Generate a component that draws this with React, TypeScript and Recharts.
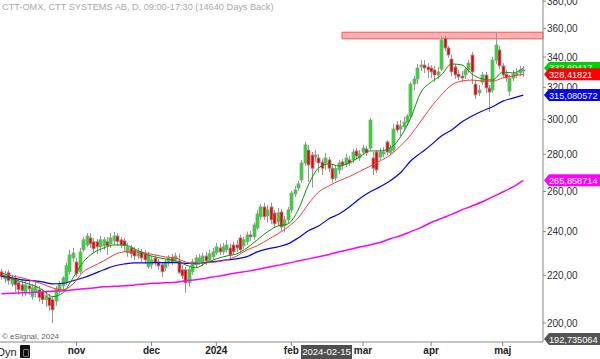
import React from 'react';
import { ComposedChart, Bar, Line, XAxis, YAxis, ReferenceArea, ReferenceLine } from 'recharts';

const FONT = '"Liberation Sans", Arial, sans-serif';

// daily candles [open, high, low, close], 2023-10-02 .. 2024-05-10
const candles = [
  // okt
  [221.5, 222.8, 218.0, 219.3], [218.4, 221.9, 216.7, 220.2], [221.1, 222.4, 215.8, 217.6], [216.2, 220.2, 215.0, 218.9],
  [218.4, 220.2, 212.8, 215.8], [216.7, 218.0, 211.6, 213.7], [215.8, 218.5, 210.8, 213.3], [212.8, 218.0, 211.2, 215.8],
  [215.4, 217.6, 211.6, 214.1], [210.8, 216.2, 209.5, 214.5], [212.8, 217.5, 210.4, 215.0], [213.7, 215.4, 208.6, 210.4],
  [212.8, 214.1, 207.8, 209.5], [209.5, 213.2, 206.6, 211.2], [210.4, 212.0, 204.9, 207.0], [209.5, 211.2, 200.0, 205.3],
  [209.0, 215.4, 207.0, 214.1], [213.2, 217.6, 211.6, 216.2], [215.4, 219.7, 213.7, 218.8], [217.1, 225.5, 215.8, 224.2],
  [221.5, 231.4, 220.2, 229.1], [227.7, 232.3, 226.0, 230.0],
  // nov
  [225.9, 227.7, 219.3, 220.6], [221.5, 232.3, 220.6, 230.5], [231.4, 237.5, 230.5, 236.1], [233.7, 239.3, 232.8, 237.9],
  [237.0, 239.3, 232.3, 234.2], [235.2, 237.0, 230.1, 231.9], [235.2, 236.5, 229.6, 232.8], [232.8, 238.0, 230.5, 236.1],
  [233.3, 237.5, 231.4, 236.1], [235.2, 237.5, 229.1, 233.3], [234.2, 239.3, 232.3, 237.0], [235.6, 239.8, 233.7, 237.9],
  [237.9, 239.3, 233.3, 235.2], [236.1, 237.5, 232.3, 233.7], [235.6, 237.0, 230.5, 233.3], [230.1, 234.7, 228.2, 232.8],
  [232.3, 233.7, 227.7, 229.6], [231.4, 232.8, 226.8, 228.6], [228.6, 232.3, 227.3, 230.5], [230.5, 231.9, 225.9, 227.7],
  [229.6, 231.4, 225.0, 226.8], [223.7, 230.5, 222.8, 229.1],
  // dec
  [224.6, 228.6, 222.8, 226.8], [227.7, 229.1, 224.1, 225.5], [225.9, 227.3, 222.4, 224.1], [224.6, 225.9, 219.3, 221.5],
  [223.3, 227.3, 221.9, 225.9], [225.5, 229.1, 224.1, 227.7], [227.7, 229.6, 224.6, 226.0], [226.8, 230.1, 225.5, 228.6],
  [226.4, 229.6, 220.6, 221.1], [222.4, 224.6, 218.4, 219.7], [222.4, 223.7, 212.4, 216.7], [216.7, 223.7, 215.0, 222.4],
  [221.5, 227.3, 220.2, 225.9], [224.6, 229.1, 223.3, 227.7], [226.0, 229.6, 224.6, 227.7], [226.0, 230.1, 224.1, 228.6],
  [228.6, 230.5, 224.6, 226.4], [226.8, 231.4, 225.5, 229.6], [228.2, 232.3, 227.3, 230.5],
  // jan
  [230.1, 234.7, 229.1, 232.8], [232.3, 234.2, 229.1, 230.5], [230.5, 234.7, 229.1, 232.8], [231.4, 236.1, 230.1, 233.7],
  [232.3, 234.2, 227.7, 229.1], [233.7, 235.2, 229.1, 230.5], [233.7, 236.1, 230.5, 232.3], [237.0, 238.4, 230.1, 231.4],
  [233.3, 237.5, 231.9, 236.1], [235.2, 240.0, 233.7, 238.4], [238.4, 240.4, 235.6, 237.5], [237.5, 244.5, 236.1, 243.2],
  [241.8, 250.6, 240.8, 248.6], [247.2, 253.6, 245.7, 252.1], [252.1, 254.2, 245.7, 247.2], [247.6, 253.1, 244.5, 250.6],
  [252.1, 254.2, 243.7, 245.7], [249.1, 250.6, 241.8, 243.7], [244.7, 251.6, 242.7, 249.1], [249.6, 251.1, 240.4, 242.2],
  [242.7, 247.6, 239.6, 245.7], [245.7, 252.1, 244.2, 250.6],
  // feb
  [250.6, 260.3, 249.1, 259.2], [258.7, 262.9, 257.2, 260.8], [261.8, 265.6, 260.3, 264.0], [266.1, 276.9, 264.5, 275.2],
  [275.2, 287.0, 273.6, 285.3], [282.4, 285.3, 265.0, 274.1], [279.6, 281.3, 262.0, 272.3], [278.5, 282.4, 275.8, 279.6],
  [278.0, 280.2, 270.0, 275.2], [275.7, 277.5, 268.7, 272.3], [275.2, 280.8, 271.4, 278.0], [276.9, 278.5, 270.3, 272.3],
  [272.3, 274.1, 264.5, 266.6], [267.1, 274.1, 265.6, 272.3], [271.4, 276.9, 269.2, 275.2], [275.8, 277.4, 271.4, 274.1],
  [274.7, 280.2, 273.0, 278.0], [276.9, 279.1, 273.6, 275.2], [276.9, 283.0, 275.2, 281.3], [281.9, 283.5, 277.4, 279.1],
  [278.0, 282.4, 276.3, 280.2],
  // mar
  [281.3, 285.3, 279.6, 283.5], [283.0, 284.7, 279.1, 280.8], [283.5, 301.0, 282.4, 299.8], [278.0, 281.3, 268.7, 272.3],
  [281.3, 282.4, 269.7, 271.4], [278.5, 283.5, 276.9, 281.3], [280.2, 284.1, 278.5, 281.3], [287.0, 288.1, 279.6, 281.3],
  [280.8, 285.3, 279.6, 283.5], [282.4, 297.5, 281.3, 294.5], [296.9, 299.2, 292.3, 293.9], [294.5, 299.8, 290.4, 296.3],
  [295.7, 301.6, 293.3, 298.6], [298.6, 303.4, 296.3, 302.2], [302.2, 323.4, 300.4, 322.1], [322.1, 327.3, 318.3, 325.4],
  [325.4, 335.3, 322.1, 332.6], [333.3, 337.9, 330.6, 334.6], [334.6, 337.9, 329.3, 332.6], [333.3, 335.9, 326.0, 331.3],
  // apr
  [332.6, 334.6, 326.0, 330.0], [331.3, 333.9, 323.4, 328.0], [328.0, 333.3, 325.4, 330.0], [331.9, 354.5, 330.6, 351.7],
  [353.0, 354.5, 344.1, 346.1], [346.1, 347.5, 339.3, 341.3], [338.6, 341.3, 327.3, 330.0], [333.3, 335.3, 325.4, 328.0],
  [328.6, 331.3, 324.7, 326.7], [327.3, 330.6, 323.4, 326.0], [328.0, 333.3, 325.4, 331.3], [331.3, 337.9, 329.3, 335.9],
  [341.3, 343.4, 322.1, 330.0], [322.1, 324.7, 312.6, 315.2], [316.5, 321.5, 314.5, 318.3], [323.4, 330.0, 321.5, 328.0],
  [328.0, 330.0, 316.5, 319.6], [319.6, 321.5, 304.7, 317.0], [318.3, 340.0, 316.5, 337.9], [337.9, 357.4, 335.3, 348.2],
  [344.8, 347.5, 332.0, 334.0],
  // maj
  [334.0, 335.9, 326.0, 328.0], [328.6, 331.3, 323.4, 326.0], [317.6, 328.0, 314.5, 326.0], [326.0, 331.3, 324.0, 328.6],
  [328.0, 332.6, 326.0, 329.3], [329.3, 334.0, 327.3, 331.3], [331.3, 333.9, 326.7, 330.6],
];

// bar index of first trading day of each month
const monthTicks = [22, 44, 63, 85, 106, 126, 147];
const monthLabels = ['nov', 'dec', '2024', 'feb', 'mar', 'apr', 'maj'];
const priceTicks = [200, 220, 240, 260, 280, 300, 320, 340, 360, 380];

// moving averages read every 3rd bar
const maIdx = [0, 3, 6, 9, 12, 15, 18, 21, 24, 27, 30, 33, 36, 39, 42, 45, 48, 51, 54, 57, 60, 63, 66, 69, 72, 75,
  78, 81, 84, 87, 90, 93, 96, 99, 102, 105, 108, 111, 114, 117, 120, 123, 126, 129, 132, 135, 138, 141, 144, 147, 150, 153];
const maFast = [220.2, 218.4, 217.1, 215.8, 213.7, 210.8, 212.4, 218.9, 225.9, 230.1, 232.3, 233.7, 233.7, 231.9, 229.6, 228.2,
  227.3, 226.4, 224.6, 223.3, 225.5, 227.3, 228.6, 229.6, 232.3, 236.1, 239.9, 242.7, 243.7, 250.6, 263.4, 272.5, 274.7, 273.6,
  275.2, 278.5, 281.9, 281.9, 283.5, 289.8, 301.0, 316.9, 323.4, 328.0, 335.3, 334.6, 328.6, 325.4, 324.7, 329.9, 329.3, 332.6];
const maMid = [221.1, 219.7, 218.9, 217.6, 216.2, 214.5, 213.7, 216.2, 221.5, 224.1, 226.4, 229.1, 230.5, 230.5, 230.1, 229.1,
  228.2, 227.7, 225.9, 225.0, 225.5, 225.9, 226.8, 228.6, 231.4, 233.3, 236.1, 238.9, 242.2, 246.6, 253.6, 259.7, 262.9, 265.6,
  267.8, 270.6, 273.3, 276.3, 279.6, 284.7, 291.0, 299.2, 307.7, 315.2, 321.5, 324.1, 324.7, 324.1, 324.0, 326.0, 327.4, 328.4];
const maSlow = [219.5, 218.9, 218.0, 217.6, 217.1, 216.2, 216.5, 217.6, 218.9, 220.6, 222.4, 224.1, 225.0, 225.5, 225.5, 225.6,
  225.6, 225.6, 225.3, 225.3, 225.7, 226.2, 226.8, 227.3, 228.3, 230.5, 231.9, 232.8, 234.2, 237.0, 240.4, 242.7, 246.2, 248.6,
  252.1, 256.2, 259.7, 262.4, 265.6, 269.9, 276.3, 280.8, 285.3, 290.4, 293.9, 298.6, 302.2, 305.3, 307.9, 311.3, 313.2, 315.08];
const maLong = [212.0, 212.2, 212.4, 212.6, 212.8, 213.1, 213.3, 213.7, 214.1, 214.5, 215.0, 215.2, 215.4, 215.8, 216.2, 216.5,
  216.7, 216.9, 217.6, 218.0, 218.7, 219.5, 220.2, 221.1, 221.7, 222.5, 223.5, 224.4, 225.3, 226.3, 227.3, 228.3, 229.3, 230.5,
  231.6, 232.7, 233.7, 234.8, 236.6, 238.0, 240.0, 241.9, 244.4, 246.4, 248.4, 250.6, 252.6, 254.7, 257.2, 259.7, 262.4, 265.86];

// last values shown on the price scale
const tagValues = [332.60417, 328.41821, 315.080572, 265.858714, 192.735064];
const zone = { from: 99.85, low: 352.5, high: 357.2 };

const data = candles.map(([o, h, l, c], i) => ({ i, o, h, l, c }));
const maData = maIdx.map((i, k) => ({ i, f: maFast[k], m: maMid[k], s: maSlow[k], g: maLong[k] }));

const Candle = (props: any) => {
  const { x, y, width, height, payload } = props;
  if (!payload || height == null) return null;
  const { o, h, l, c } = payload;
  const lh = Math.log(h);
  const span = lh - Math.log(l) || 1;
  const py = (v: number) => y + ((lh - Math.log(v)) / span) * height;
  const top = py(Math.max(o, c));
  const bot = py(Math.min(o, c));
  const mid = Math.round(x + width / 2) + 0.5;
  return (
    <g>
      <line x1={mid} x2={mid} y1={y} y2={y + height} stroke="#999" strokeWidth={1} />
      <rect
        x={mid - 1.5}
        y={top}
        width={3}
        height={Math.max(1, bot - top)}
        fill={c >= o ? '#19e619' : '#f00000'}
        stroke="#999"
        strokeWidth={0.8}
      />
    </g>
  );
};

const PriceTag = ({ viewBox, text, bg, dy = 0 }: any) => {
  if (!viewBox) return null;
  const x0 = viewBox.x + viewBox.width;
  const y0 = viewBox.y + dy;
  const pts = `${x0 + 1},${y0} ${x0 + 6},${y0 - 6} 600,${y0 - 6} 600,${y0 + 6} ${x0 + 6},${y0 + 6}`;
  return (
    <g>
      <polygon points={pts} fill={bg} />
      <text x={x0 + 6} y={y0 + 3.5} fill="#fff" fontSize={9.2} fontFamily={FONT}>{text}</text>
    </g>
  );
};

const tagColors = ['#00d000', '#ff0000', '#0000ff', '#ff00ff', '#555555'];
const fmt = (v: number) => String(v).replace('.', ',');

const lineProps = { type: 'monotone' as const, dot: false, activeDot: false, isAnimationActive: false };

export default function App() {
  return (
    <div style={{ position: 'absolute', left: 0, top: 0, width: 600, height: 359, background: '#fff', fontFamily: FONT, overflow: 'hidden' }}>
      <ComposedChart width={600} height={359} data={data} margin={{ top: 0, right: 0, bottom: 0, left: 0 }}>
        <XAxis
          dataKey="i"
          type="number"
          domain={[-0.44, 158.8]}
          allowDataOverflow
          ticks={monthTicks}
          interval={0}
          tickFormatter={(v: number) => monthLabels[monthTicks.indexOf(v)] ?? ''}
          height={17}
          tickSize={4}
          tickMargin={1}
          axisLine={{ stroke: '#888' }}
          tickLine={{ stroke: '#888' }}
          tick={{ fontSize: 10, fontWeight: 'bold', fill: '#222', fontFamily: FONT }}
        />
        <YAxis
          orientation="right"
          width={57}
          scale="log"
          domain={[192.57, 380.9]}
          allowDataOverflow
          ticks={priceTicks}
          interval={0}
          tickFormatter={(v: number) => v.toFixed(2).replace('.', ',')}
          tickSize={3}
          tickMargin={1}
          axisLine={{ stroke: '#888' }}
          tickLine={{ stroke: '#888' }}
          tick={{ fontSize: 10, fill: '#333', fontFamily: FONT, textAnchor: 'start' }}
        />
        <ReferenceArea
          x1={zone.from}
          x2={158.8}
          y1={zone.low}
          y2={zone.high}
          fill="#ffb0b0"
          fillOpacity={1}
          stroke="#ff5050"
          ifOverflow="visible"
        />
        <Bar dataKey={(d: any) => [d.l, d.h]} barSize={3} shape={<Candle />} isAnimationActive={false} />
        <Line {...lineProps} data={maData} dataKey="g" stroke="#ff00ff" strokeWidth={1.5} />
        <Line {...lineProps} data={maData} dataKey="s" stroke="#0000ff" strokeWidth={1.2} />
        <Line {...lineProps} data={maData} dataKey="m" stroke="#ff3a3a" strokeWidth={1} />
        <Line {...lineProps} data={maData} dataKey="f" stroke="#009a00" strokeWidth={1} />
        {tagValues.map((v, k) => (
          <ReferenceLine
            key={k}
            y={v}
            stroke="none"
            ifOverflow="visible"
            label={(p: any) => <PriceTag viewBox={p.viewBox} text={fmt(v)} bg={tagColors[k]} dy={k === 4 ? -2.5 : 0} />}
          />
        ))}
      </ComposedChart>
      <div style={{ position: 'absolute', left: 2, top: 2, fontSize: 9.2, color: '#aaa', whiteSpace: 'nowrap' }}>
        CTT-OMX, CTT SYSTEMS AB, D, 09:00-17:30 (14640 Days Back)
      </div>
      <div style={{ position: 'absolute', left: 2, top: 332, fontSize: 8, color: '#666', whiteSpace: 'nowrap' }}>
        © eSignal, 2024
      </div>
      <div style={{ position: 'absolute', left: -3, top: 346, fontSize: 11, color: '#222' }}>Dyn</div>
      <div style={{ position: 'absolute', left: 20, top: 345, width: 10, height: 13, background: '#111', borderRadius: 1 }}>
        <div style={{ position: 'absolute', left: 3, top: 4, width: 4, height: 6, border: '1px solid #777', borderRadius: 1 }} />
      </div>
      <div style={{ position: 'absolute', left: 301, top: 345, width: 51, height: 14, background: '#505050', color: '#fff', fontSize: 9.5, lineHeight: '14px', textAlign: 'center', whiteSpace: 'nowrap' }}>
        2024-02-15
      </div>
    </div>
  );
}
